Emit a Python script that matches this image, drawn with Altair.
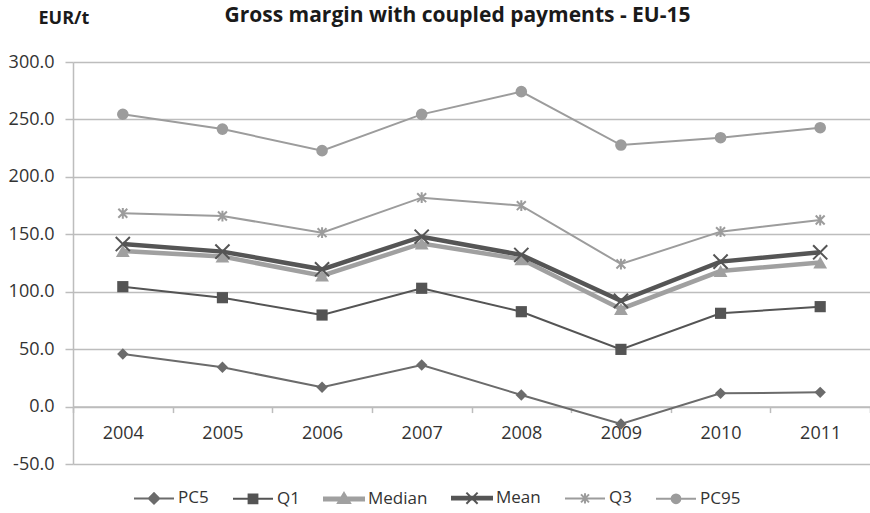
import altair as alt
import pandas as pd

# Gross margin with coupled payments, EU-15 (EUR per tonne)
years = ["2004", "2005", "2006", "2007", "2008", "2009", "2010", "2011"]
series = ["PC5", "Q1", "Median", "Mean", "Q3", "PC95"]

pc5 = [45.8, 34.2, 16.8, 36.2, 10.1, -15.2, 11.5, 12.4]
q1 = [104.4, 94.8, 79.7, 103.0, 82.6, 49.8, 81.2, 87.0]
median = [135.4, 130.6, 114.0, 142.0, 128.2, 85.0, 118.0, 125.5]
mean = [141.5, 134.9, 119.5, 147.9, 132.0, 92.0, 126.2, 134.3]
q3 = [168.3, 165.9, 151.4, 181.9, 174.9, 124.1, 152.3, 162.4]
pc95 = [254.5, 241.6, 222.8, 254.4, 274.2, 227.7, 234.1, 242.8]

values = {"PC5": pc5, "Q1": q1, "Median": median, "Mean": mean, "Q3": q3, "PC95": pc95}
df = pd.DataFrame(
    [{"year": y, "series": s, "value": v} for s in series for y, v in zip(years, values[s])]
)

# Styling per series
X_PATH = "M-1,-1L1,1M-1,1L1,-1"
STAR_PATH = "M-1,-1L1,1M-1,1L1,-1M0,-1.2L0,1.2"
style = {
    "PC5": dict(color="#6b6b6b", width=2, shape="diamond", size=130, filled=True),
    "Q1": dict(color="#545454", width=2, shape="square", size=125, filled=True),
    "Median": dict(color="#a0a0a0", width=4.5, shape="triangle-up", size=190, filled=True),
    "Mean": dict(color="#555555", width=4.5, shape=X_PATH, size=200, filled=False),
    "Q3": dict(color="#9c9c9c", width=2, shape=STAR_PATH, size=80, filled=False),
    "PC95": dict(color="#9c9c9c", width=2, shape="circle", size=135, filled=True),
}

# Legend glyphs: a line segment with the series marker on top
legend_paths = [
    "M-1,0H1M-0.26,0L0,-0.26L0.26,0L0,0.26Z",
    "M-1,0H1M-0.22,-0.22H0.22V0.22H-0.22Z",
    "M-1,-0.07H1V0.07H-1ZM0,-0.3L0.3,0.2L-0.3,0.2Z",
    "M-1,-0.07H1V0.07H-1ZM-0.28,-0.28L0.28,0.28M-0.28,0.28L0.28,-0.28",
    "M-1,0H1M-0.2,-0.2L0.2,0.2M-0.2,0.2L0.2,-0.2M0,-0.26V0.26",
    "M-1,0H1M0.22,0A0.22,0.22,0,1,1,-0.22,0A0.22,0.22,0,1,1,0.22,0Z",
]
color_list = [style[s]["color"] for s in series]

Y_MIN, Y_MAX = -50, 300
W, H = 797, 402
FONT = "Open Sans"
GRID = "#bdbdbd"
TEXT = "#333333"

x_enc = alt.X(
    "year:O",
    scale=alt.Scale(type="band", domain=years, paddingInner=0, paddingOuter=0),
    bandPosition=0.5,
    axis=alt.Axis(
        title=None,
        labelAngle=0,
        tickBand="extent",
        offset=-H * (0 - Y_MIN) / (Y_MAX - Y_MIN),
        labelFontSize=18,
        labelColor=TEXT,
        labelPadding=12,
        tickSize=6,
        tickColor=GRID,
        tickWidth=1.5,
        domainColor=GRID,
        domainWidth=1.5,
    ),
)

y_enc = alt.Y(
    "value:Q",
    scale=alt.Scale(domain=[Y_MIN, Y_MAX], nice=False, zero=False),
    axis=alt.Axis(
        values=list(range(Y_MIN, Y_MAX + 1, 50)),
        labelExpr="replace(format(datum.value, '.1f'), '\u2212', '-')",
        labelFontSize=18,
        labelColor=TEXT,
        labelPadding=11,
        tickSize=8,
        tickColor=GRID,
        tickWidth=1.5,
        domainColor=GRID,
        domainWidth=1.5,
        gridColor=GRID,
        gridWidth=1.5,
        title="EUR/t",
        titleAngle=0,
        titleAlign="left",
        titleBaseline="middle",
        titleX=-35,
        titleY=-44,
        titleFontSize=18,
        titleFontWeight="bold",
        titleColor="#1a1a1a",
    ),
)

base = alt.Chart(df)
layers = []
for s in series:
    st = style[s]
    sub = base.transform_filter(alt.datum.series == s)
    layers.append(
        sub.mark_line(color=st["color"], strokeWidth=st["width"]).encode(x=x_enc, y=y_enc)
    )
for s in series:
    st = style[s]
    sub = base.transform_filter(alt.datum.series == s)
    layers.append(
        sub.mark_point(
            shape=st["shape"],
            size=st["size"],
            filled=st["filled"],
            color=st["color"],
            strokeWidth=2,
            opacity=1,
        ).encode(x=x_enc, y=y_enc)
    )

# Legend-only layer (draws no marks of its own)
legend_layer = (
    base.transform_filter("false")
    .mark_point(filled=True, opacity=1)
    .encode(
        x=x_enc,
        y=y_enc,
        shape=alt.Shape("series:N", title=None, scale=alt.Scale(domain=series, range=legend_paths)),
        fill=alt.Fill("series:N", title=None, scale=alt.Scale(domain=series, range=color_list)),
        stroke=alt.Stroke("series:N", title=None, scale=alt.Scale(domain=series, range=color_list)),
    )
)
layers.append(legend_layer)

chart = (
    alt.layer(*layers)
    .properties(
        width=W,
        height=H,
        title=alt.Title(
            "Gross margin with coupled payments - EU-15",
            fontSize=21,
            fontWeight="bold",
            color="#1a1a1a",
            anchor="middle",
            frame="group",
            dx=-14,
            dy=21,
        ),
        padding={"left": 73, "top": 62, "right": 0, "bottom": 49},
        autosize=alt.AutoSizeParams(type="none"),
    )
    .configure(font=FONT)
    .configure_view(stroke=None)
    .configure_legend(
        orient="none",
        legendX=60,
        legendY=415,
        direction="horizontal",
        symbolSize=1600,
        symbolStrokeWidth=2,
        labelFontSize=17,
        labelColor=TEXT,
        labelOffset=3,
        columnPadding=20,
    )
)

chart.save("out.html", embed_options={"renderer": "svg", "actions": False})
